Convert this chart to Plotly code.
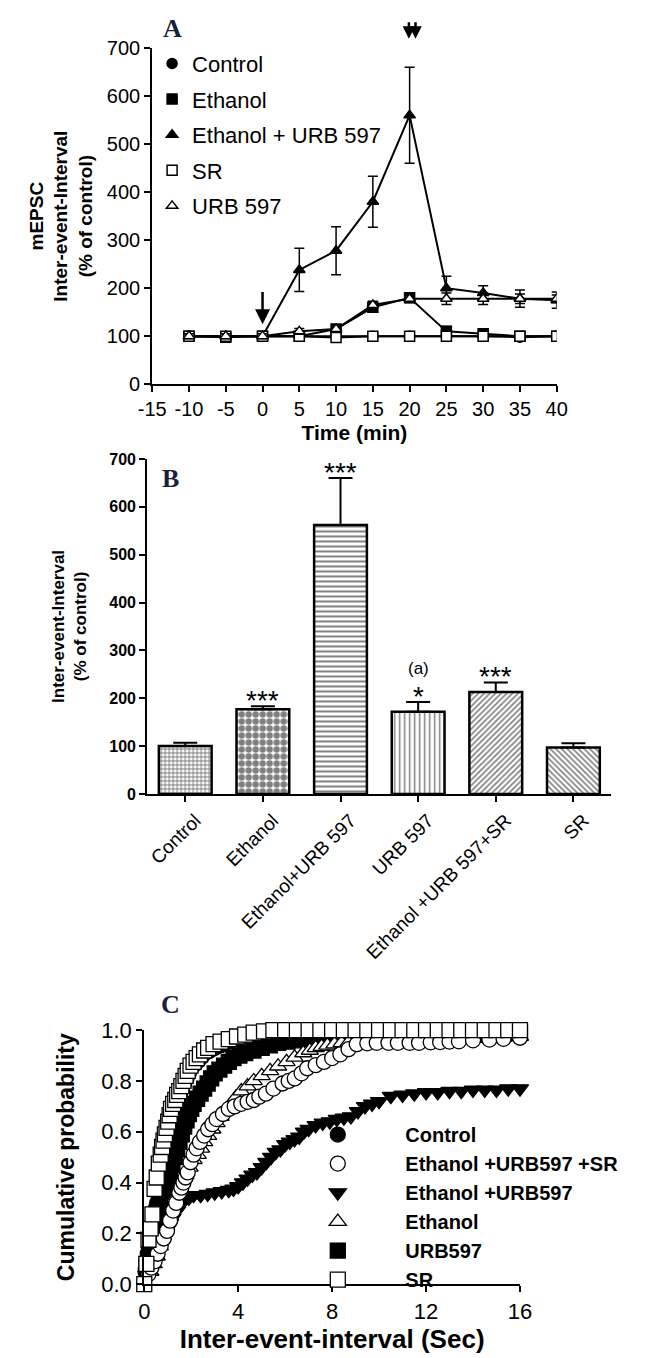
import plotly.graph_objects as go

# ---------- panel A: time course ----------
time_min = [-10, -5, 0, 5, 10, 15, 20, 25, 30, 35, 40]
a_ticks = [-15, -10, -5, 0, 5, 10, 15, 20, 25, 30, 35, 40]
a_tick_text = ["-15", "-10", "-5", "0", "5", "10", "15", "20", "25", "30", "35", "40"]
a_control = [100, 100, 100, 100, 100, 100, 100, 100, 100, 98, 100]
a_control_err = [5, 5, 4, 4, 4, 5, 5, 5, 5, 5, 5]
a_ethanol = [100, 98, 100, 100, 115, 160, 180, 110, 105, 100, 100]
a_ethanol_err = [5, 5, 4, 5, 8, 8, 6, 10, 8, 6, 5]
a_eth_urb = [100, 100, 100, 238, 278, 380, 560, 200, 190, 178, 175]
a_eth_urb_err = [5, 5, 5, 45, 50, 53, 100, 25, 15, 18, 17]
a_sr = [100, 100, 100, 100, 97, 100, 100, 100, 100, 100, 100]
a_sr_err = [5, 4, 5, 5, 8, 5, 5, 5, 5, 4, 5]
a_urb = [100, 100, 100, 110, 115, 165, 178, 178, 178, 178, 178]
a_urb_err = [5, 5, 5, 6, 6, 8, 8, 12, 12, 10, 8]

# ---------- panel B: bars ----------
b_groups = ["Control", "Ethanol", "Ethanol+URB 597", "URB 597", "Ethanol +URB 597+SR", "SR"]
b_mean = [100, 177, 562, 172, 213, 97]
b_sem = [7, 6, 98, 20, 20, 9]
b_stars = ["", "***", "***", "*", "***", ""]
b_note = ["", "", "", "(a)", "", ""]

# ---------- panel C: cumulative probability ----------
c_sr_x = [0, 0.09, 0.18, 0.27, 0.35, 0.44, 0.53, 0.62, 0.7, 0.76, 0.82, 0.88, 0.95, 1.02, 1.08, 1.14,
          1.23, 1.32, 1.4, 1.49, 1.58, 1.67, 1.76, 1.85, 1.97, 2.1, 2.23, 2.37, 2.55, 2.72, 2.95, 3.25,
          3.6, 3.95, 4.3, 4.66, 5.1, 5.5, 6.0, 6.5, 7.0, 7.5, 8.0, 8.5, 9.0, 9.5, 10.0, 10.5, 11.0,
          11.5, 12.0, 12.5, 13.0, 13.5, 14.0, 14.5, 15.0, 15.5, 16.0]
c_sr_y = [0, 0.08, 0.175, 0.22, 0.275, 0.375, 0.42, 0.475, 0.51, 0.54, 0.565, 0.59, 0.615, 0.64, 0.665, 0.69,
          0.71, 0.725, 0.745, 0.76, 0.78, 0.8, 0.82, 0.84, 0.86, 0.875, 0.89, 0.905, 0.92, 0.93, 0.945, 0.955,
          0.965, 0.975, 0.982, 0.99, 0.995, 1.0, 1.0, 1.0, 1.0, 1.0, 1.0, 1.0, 1.0, 1.0, 1.0, 1.0, 1.0,
          1.0, 1.0, 1.0, 1.0, 1.0, 1.0, 1.0, 1.0, 1.0, 1.0]
c_ctrl_x = [0.05, 0.1, 0.15, 0.2, 0.25, 0.3, 0.35, 0.4, 0.45, 0.5, 0.55, 0.6, 0.65, 0.7, 0.75, 0.8, 0.85,
            0.9, 0.95, 1.0, 1.05, 1.1, 1.15, 1.22, 1.3, 1.37, 1.45, 1.52, 1.6, 1.7, 1.8, 1.9, 2.0, 2.15,
            2.3, 2.45, 2.6, 2.8, 3.0, 3.25, 3.5, 3.75, 4.0, 4.5, 5.0, 5.5, 6.0, 6.5, 7.0, 7.5, 8.0, 9.0,
            10.0, 11.0, 12.0, 13.0, 14.0, 15.0, 16.0]
c_ctrl_y = [0.05, 0.09, 0.12, 0.15, 0.17, 0.2, 0.22, 0.25, 0.27, 0.3, 0.32, 0.35, 0.37, 0.4, 0.42, 0.45, 0.47,
            0.5, 0.52, 0.55, 0.57, 0.6, 0.62, 0.65, 0.67, 0.7, 0.72, 0.75, 0.77, 0.79, 0.81, 0.83, 0.85, 0.865,
            0.88, 0.895, 0.91, 0.92, 0.93, 0.94, 0.95, 0.958, 0.965, 0.972, 0.98, 0.985, 0.99, 0.992, 0.995,
            0.997, 1.0, 1.0, 1.0, 1.0, 1.0, 1.0, 1.0, 1.0, 1.0]
c_urb_x = [0.1, 0.2, 0.3, 0.4, 0.5, 0.6, 0.7, 0.8, 0.9, 1.0, 1.1, 1.2, 1.3, 1.4, 1.5, 1.6, 1.7, 1.8, 1.9,
           2.0, 2.1, 2.25, 2.4, 2.55, 2.7, 2.85, 3.0, 3.2, 3.4, 3.6, 3.8, 4.05, 4.3, 4.65, 5.0, 5.35, 5.7,
           6.1, 6.5, 7.0, 7.5, 8.0, 8.5, 9.0, 9.5, 10.0, 10.5, 11.0, 11.5, 12.0, 12.5, 13.0, 13.5, 14.0,
           14.5, 15.0, 15.5, 16.0]
c_urb_y = [0.08, 0.11, 0.15, 0.18, 0.22, 0.26, 0.3, 0.33, 0.37, 0.4, 0.44, 0.47, 0.5, 0.53, 0.56, 0.59,
           0.62, 0.645, 0.67, 0.69, 0.71, 0.73, 0.75, 0.77, 0.79, 0.81, 0.83, 0.845, 0.86, 0.875, 0.89, 0.9,
           0.91, 0.92, 0.93, 0.94, 0.95, 0.955, 0.96, 0.965, 0.97, 0.972, 0.975, 0.978, 0.98, 0.98, 0.98,
           0.98, 0.98, 0.982, 0.982, 0.985, 0.985, 0.985, 0.987, 0.988, 0.99, 0.99]
c_eth_x = [0.26, 0.4, 0.53, 0.66, 0.79, 0.92, 1.05, 1.18, 1.32, 1.45, 1.58, 1.75, 1.93, 2.1, 2.28, 2.42,
           2.55, 2.72, 2.9, 3.08, 3.25, 3.48, 3.7, 3.9, 4.13, 4.4, 4.66, 5.0, 5.36, 5.7, 6.06, 6.4, 6.77,
           7.05, 7.3, 7.55, 7.8, 8.1, 8.4, 8.7, 9.05, 9.5, 10.0, 10.4, 10.8, 11.4, 12.0, 12.7, 13.4, 14.0,
           14.7, 15.3, 16.0]
c_eth_y = [0.05, 0.08, 0.11, 0.15, 0.19, 0.22, 0.26, 0.3, 0.34, 0.37, 0.4, 0.43, 0.46, 0.49, 0.51, 0.535,
           0.56, 0.585, 0.61, 0.635, 0.66, 0.685, 0.71, 0.735, 0.76, 0.78, 0.8, 0.82, 0.84, 0.858, 0.875, 0.893,
           0.91, 0.92, 0.93, 0.935, 0.94, 0.945, 0.95, 0.952, 0.955, 0.956, 0.958, 0.959, 0.96, 0.961, 0.962,
           0.963, 0.965, 0.967, 0.97, 0.972, 0.975]
c_ethsr_x = [0.18, 0.3, 0.44, 0.57, 0.7, 0.83, 0.97, 1.1, 1.23, 1.36, 1.49, 1.58, 1.67, 1.76, 1.85, 1.97,
             2.1, 2.23, 2.37, 2.55, 2.72, 2.9, 3.08, 3.35, 3.6, 3.85, 4.13, 4.4, 4.66, 4.9, 5.18, 5.5,
             5.89, 6.15, 6.41, 6.7, 6.94, 7.3, 7.65, 8.0, 8.35, 8.7, 9.05, 9.5, 9.9, 10.4, 10.8, 11.3,
             11.7, 12.2, 12.6, 13.0, 13.4, 14.0, 14.7, 15.3, 16.0]
c_ethsr_y = [0.04, 0.065, 0.09, 0.12, 0.15, 0.18, 0.21, 0.25, 0.29, 0.32, 0.36, 0.38, 0.4, 0.42, 0.44, 0.48,
             0.51, 0.535, 0.56, 0.585, 0.61, 0.63, 0.65, 0.67, 0.69, 0.7, 0.71, 0.718, 0.725, 0.738, 0.75, 0.77,
             0.79, 0.8, 0.81, 0.83, 0.85, 0.862, 0.875, 0.89, 0.905, 0.925, 0.945, 0.948, 0.95, 0.95, 0.95, 0.95,
             0.95, 0.952, 0.953, 0.955, 0.956, 0.96, 0.963, 0.966, 0.97]
c_ethurb_x = [0.1, 0.2, 0.3, 0.4, 0.5, 0.6, 0.7, 0.8, 0.9, 1.0, 1.1, 1.2, 1.3, 1.4, 1.5, 1.6, 1.7, 1.9,
              2.1, 2.4, 2.7, 3.0, 3.3, 3.6, 3.8, 4.0, 4.2, 4.4, 4.6, 4.8, 5.0, 5.2, 5.4, 5.6, 5.8, 6.0,
              6.2, 6.4, 6.6, 6.8, 7.0, 7.3, 7.6, 7.9, 8.2, 8.5, 8.8, 9.1, 9.4, 9.7, 10.0, 10.5, 11.0,
              11.5, 12.0, 12.5, 13.0, 13.5, 14.0, 14.5, 15.0, 15.5, 16.0]
c_ethurb_y = [0.05, 0.08, 0.1, 0.12, 0.15, 0.17, 0.19, 0.2, 0.21, 0.22, 0.24, 0.26, 0.28, 0.29, 0.31, 0.32,
              0.33, 0.34, 0.35, 0.35, 0.355, 0.36, 0.365, 0.37, 0.375, 0.385, 0.4, 0.415, 0.43, 0.44, 0.46,
              0.48, 0.5, 0.52, 0.53, 0.55, 0.56, 0.57, 0.58, 0.6, 0.61, 0.625, 0.635, 0.64, 0.65, 0.655,
              0.66, 0.68, 0.7, 0.71, 0.72, 0.74, 0.745, 0.75, 0.755, 0.755, 0.76, 0.76, 0.765, 0.765, 0.765,
              0.77, 0.77]

SANS = "Liberation Sans, Arial, sans-serif"
SERIF = "Liberation Serif, Times New Roman, serif"

fig = go.Figure()

# panel A
a_series = [
    ("Control", a_control, a_control_err, "circle", False),
    ("Ethanol", a_ethanol, a_ethanol_err, "square", False),
    ("Ethanol + URB 597", a_eth_urb, a_eth_urb_err, "triangle-up", False),
    ("SR", a_sr, a_sr_err, "square", True),
    ("URB 597", a_urb, a_urb_err, "triangle-up", True),
]
for name, vals, errs, sym, opn in a_series:
    fig.add_trace(go.Scatter(x=time_min, y=vals, mode="lines", line=dict(color="black", width=2),
                             showlegend=False, hoverinfo="skip", xaxis="x", yaxis="y"))
for i, (name, vals, errs, sym, opn) in enumerate(a_series):
    fig.add_trace(go.Scatter(
        x=time_min, y=vals, mode="markers", name=name, legend="legend", legendgroup="a%d" % i,
        marker=dict(symbol=sym, size=10, color="white" if opn else "black",
                    line=dict(color="black", width=1.5)),
        error_y=dict(type="data", array=errs, color="black", thickness=1.5, width=5),
        xaxis="x", yaxis="y"))

# panel B
fig.add_trace(go.Bar(
    x=b_groups, y=b_mean, width=0.68, showlegend=False, xaxis="x2", yaxis="y2",
    marker=dict(color="white", line=dict(color="black", width=2.5),
                pattern=dict(shape=["+", ".", "-", "|", "/", "\\"],
                             size=[4, 7, 5, 5, 4, 4],
                             solidity=[0.45, 0.65, 0.4, 0.3, 0.4, 0.4],
                             fgcolor="black", bgcolor="white", fillmode="overlay")),
    error_y=dict(type="data", symmetric=False, array=b_sem, arrayminus=[0] * len(b_sem),
                 color="black", thickness=2, width=12)))

# panel C
c_series = [
    ("Control", c_ctrl_x, c_ctrl_y, "circle", False, 1),
    ("URB597", c_urb_x, c_urb_y, "square", False, 5),
    ("Ethanol +URB597", c_ethurb_x, c_ethurb_y, "triangle-down", False, 3),
    ("Ethanol", c_eth_x, c_eth_y, "triangle-up", True, 4),
    ("Ethanol +URB597 +SR", c_ethsr_x, c_ethsr_y, "circle", True, 2),
    ("SR", c_sr_x, c_sr_y, "square", True, 6),
]
for name, xs, ys, sym, opn, rank in c_series:
    fig.add_trace(go.Scatter(
        x=xs, y=ys, mode="markers", name=name, legend="legend2", legendrank=rank,
        legendgroup="c%d" % rank, cliponaxis=False,
        marker=dict(symbol=sym, size=15, color="white" if opn else "black",
                    line=dict(color="black", width=1.3)),
        xaxis="x3", yaxis="y3"))

axis_common = dict(showline=True, linecolor="black", linewidth=2, ticks="outside",
                   ticklen=6, tickwidth=2, tickcolor="black", showgrid=False, zeroline=False)

fig.update_layout(
    width=653, height=1358, autosize=False,
    margin=dict(l=0, r=0, t=0, b=0),
    paper_bgcolor="white", plot_bgcolor="white",
    font=dict(family=SANS, color="black"),
    xaxis=dict(axis_common, domain=[0.2077, 0.8528], anchor="y", range=[-15, 40],
               tickvals=a_ticks, ticktext=a_tick_text, tickfont=dict(size=20),
               title=dict(text="<b>Time (min)</b>", font=dict(size=21), standoff=6)),
    yaxis=dict(axis_common, domain=[0.7268, 0.9789], anchor="x", range=[0, 700], dtick=100,
               tickfont=dict(size=20),
               title=dict(text="<b>mEPSC<br>Inter-event-Interval<br>(% of control)</b>",
                          font=dict(size=19), standoff=9)),
    xaxis2=dict(axis_common, domain=[0.1997, 0.9401], anchor="y2", range=[-0.49, 5.49],
                type="category", tickangle=-45, ticklabelshift=10,
                tickfont=dict(size=19, color="black")),
    yaxis2=dict(axis_common, domain=[0.4194, 0.6707], anchor="x2", range=[0, 700], dtick=100,
                tickfont=dict(size=16, family="Liberation Sans Narrow, " + SANS, weight="bold"),
                title=dict(text="<b>Inter-event-Interval<br>(% of control)</b>",
                           font=dict(size=17), standoff=18)),
    xaxis3=dict(axis_common, domain=[0.195, 0.7942], anchor="y3", range=[0, 16], dtick=4,
                tickfont=dict(size=22),
                title=dict(text="<b>Inter-event-interval (Sec)</b>", font=dict(size=26), standoff=3)),
    yaxis3=dict(axis_common, domain=[0.0516, 0.2422], anchor="x3", range=[0, 1], dtick=0.2,
                tickformat=".1f", tickfont=dict(size=22),
                title=dict(text="<b>Cumulative probability</b>", font=dict(size=23), standoff=20)),
    legend=dict(x=0.2075, y=0.983, xanchor="left", yanchor="top", bgcolor="rgba(0,0,0,0)",
                font=dict(size=22), tracegroupgap=4, itemwidth=30),
    legend2=dict(x=0.396, y=0.1785, xanchor="left", yanchor="top", bgcolor="rgba(0,0,0,0)",
                 font=dict(size=20, weight="bold"), tracegroupgap=0, itemwidth=125,
                 traceorder="normal"),
)

for g, m, s, st, nt in zip(b_groups, b_mean, b_sem, b_stars, b_note):
    if st:
        fig.add_annotation(x=g, y=m + s, xref="x2", yref="y2", text=st, showarrow=False,
                           yanchor="bottom", yshift=-12, font=dict(size=28))
    if nt:
        fig.add_annotation(x=g, y=m + s, xref="x2", yref="y2", text=nt, showarrow=False,
                           yanchor="middle", yshift=34, font=dict(size=17))

# arrows in panel A (drug application marks)
fig.add_annotation(x=0, y=125, ax=0, ay=195, xref="x", yref="y", axref="x", ayref="y",
                   showarrow=True, arrowhead=2, arrowsize=1.2, arrowwidth=2.5,
                   arrowcolor="black", text="")
for xa in [19.9, 20.8]:
    fig.add_annotation(x=xa, y=0.986, xref="x", yref="paper", ax=0, ay=-18,
                       showarrow=True, arrowhead=2, arrowsize=1.0, arrowwidth=2.5,
                       arrowcolor="black", text="")

for lab, xx, yy, ys in [("A", 0.222, 1.0, 8), ("B", 0.22, 0.6685, 0), ("C", 0.219, 0.2735, 0)]:
    fig.add_annotation(x=xx, y=yy, xref="paper", yref="paper", text="<b>%s</b>" % lab,
                       yanchor="top", yshift=ys, showarrow=False,
                       font=dict(family=SERIF, size=26, color="#1a1f3d"))

fig.write_html("out.html")
